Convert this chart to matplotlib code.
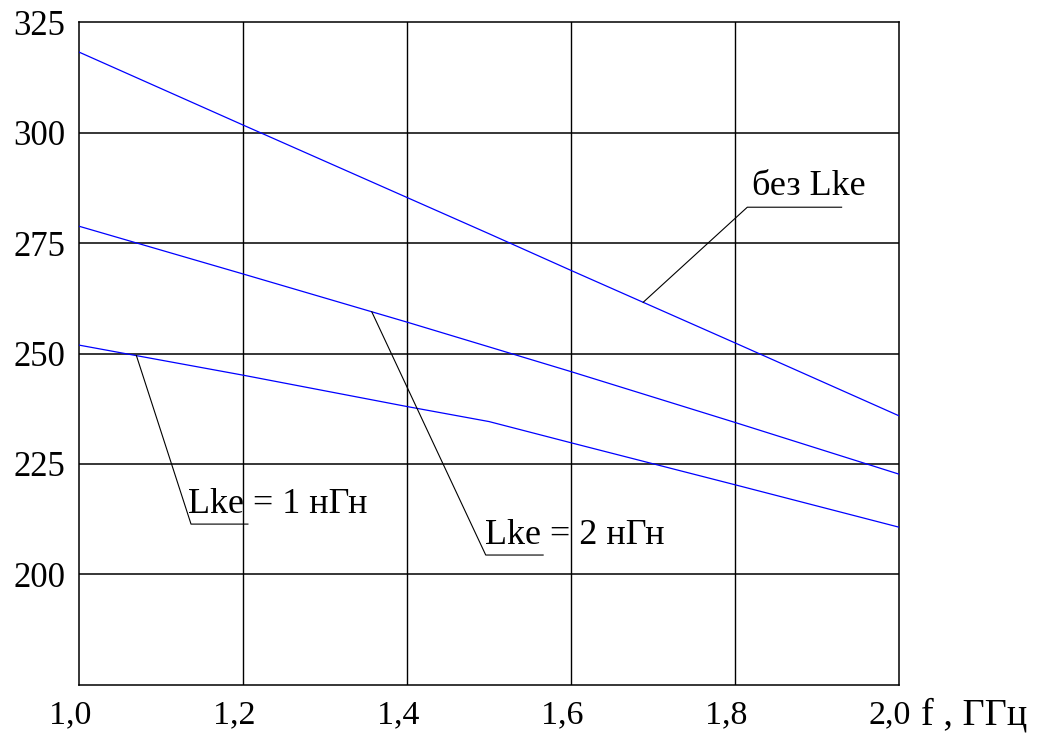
import numpy as np
import matplotlib
matplotlib.use("Agg")
import matplotlib.pyplot as plt
from matplotlib.transforms import ScaledTranslation

plt.rcParams['font.family'] = ['Liberation Serif', 'DejaVu Serif']

# Frequency, GHz
freq = [1.0, 1.2, 1.4, 1.5, 1.6, 1.8, 2.0]
# Curves
no_lke = [318.2, 301.7, 285.3, 277.1, 268.8, 252.4, 235.9]
lke_2nh = [278.8, 268.0, 257.1, 251.5, 245.9, 234.4, 222.7]
lke_1nh = [251.9, 245.1, 238.0, 234.6, 229.8, 220.3, 210.7]

x_ticks = [1.0, 1.2, 1.4, 1.6, 1.8, 2.0]
x_tick_labels = ["1,0", "1,2", "1,4", "1,6", "1,8", "2,0"]
y_ticks = [200, 225, 250, 275, 300, 325]
y_tick_labels = ["200", "225", "250", "275", "300", "325"]

fig = plt.figure(figsize=(10.41, 7.37), dpi=100)
ax = fig.add_axes([0.0759, 0.0706, 0.7877, 0.8995])
ax.set_xlim(1.0, 2.0)
ax.set_ylim(175, 325)

# grid
for xv in x_ticks[1:-1]:
    ax.axvline(xv, color='black', lw=1.0, zorder=1)
for yv in y_ticks[:-1]:
    ax.axhline(yv, color='black', lw=1.1, zorder=1)
for s in ax.spines.values():
    s.set_linewidth(1.1)
    s.set_color('black')

# curves
for series in (no_lke, lke_2nh, lke_1nh):
    ax.plot(freq, series, color='#0000ff', lw=0.9, zorder=3)

ax.set_xticks(x_ticks)
ax.set_xticklabels(x_tick_labels, fontsize=24.5)
ax.set_yticks(y_ticks)
ax.set_yticklabels(y_tick_labels, fontsize=25)
ax.tick_params(axis='y', length=0, pad=10)
ax.tick_params(axis='x', length=0, pad=11)
shift = ScaledTranslation(-9 / 100, 0, fig.dpi_scale_trans)
for lbl in ax.get_xticklabels():
    lbl.set_transform(lbl.get_transform() + shift)

ax.text(2.0265, 175, "f , ГГц", fontsize=27.5, ha='left', va='top',
        transform=ax.transData + ScaledTranslation(0, -9 / 72, fig.dpi_scale_trans),
        clip_on=False)

# leader-line labels
def leader(series, x_at, x_elbow, y_elbow, x_end, text, tx, ty):
    y_at = np.interp(x_at, freq, series)
    ax.plot([x_at, x_elbow, x_end], [y_at, y_elbow, y_elbow],
            color='black', lw=0.8, zorder=4)
    ax.text(tx, ty, text, fontsize=26, ha='left', va='baseline', zorder=5)

leader(no_lke, 1.688, 1.815, 283.1, 1.930, "без Lke", 1.821, 285.9)
leader(lke_2nh, 1.357, 1.496, 204.4, 1.566, "Lke = 2 нГн", 1.495, 206.8)
leader(lke_1nh, 1.070, 1.1366, 211.4, 1.206, "Lke = 1 нГн", 1.133, 213.9)

fig.savefig("out.png", dpi=100)
